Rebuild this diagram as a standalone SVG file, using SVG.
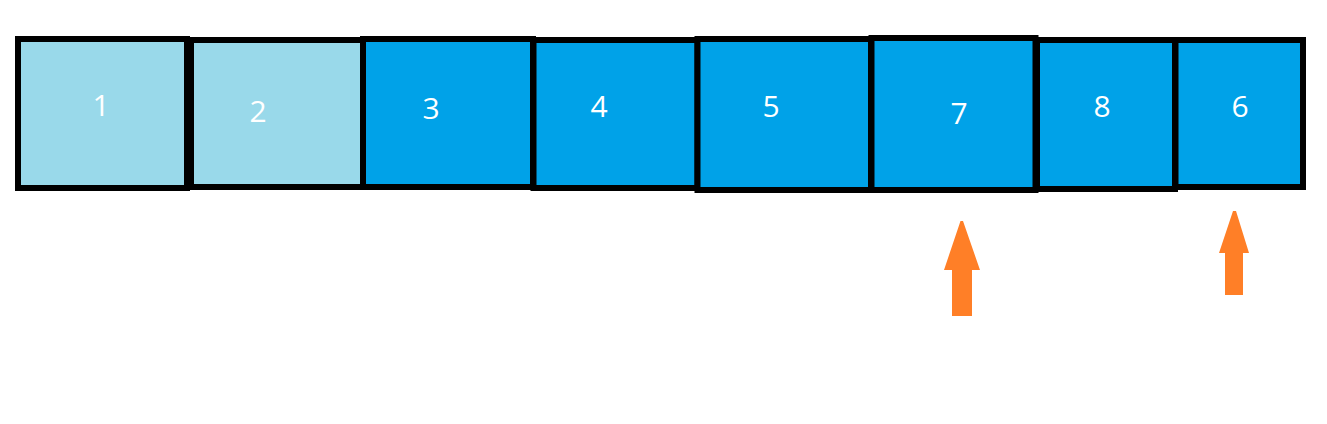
<svg xmlns="http://www.w3.org/2000/svg" width="1327" height="424" viewBox="0 0 1327 424">
<style>
.box{stroke:#000;stroke-width:6;stroke-linejoin:miter}
.light{fill:#99D9EA}
.dark{fill:#00A2E8}
.lbl{font-family:"Open Sans","Noto Sans",sans-serif;font-size:30px;fill:#fff;text-anchor:middle}
.arrow{fill:#FF7F27}
</style>
<rect width="1327" height="424" fill="#fff"/>
<g id="node-1"><rect class="box light" x="18" y="39" width="169" height="149"/><text class="lbl" x="101" y="116">1</text></g>
<g id="node-2"><rect class="box light" x="191" y="40" width="172" height="147"/><text class="lbl" x="258" y="122">2</text></g>
<g id="node-3"><rect class="box dark" x="363" y="39" width="170" height="148"/><text class="lbl" x="431" y="119">3</text></g>
<g id="node-4"><rect class="box dark" x="533.5" y="40" width="164" height="148"/><text class="lbl" x="599" y="117">4</text></g>
<g id="node-5"><rect class="box dark" x="697.5" y="39" width="173.5" height="151"/><text class="lbl" x="771" y="117">5</text></g>
<g id="node-7"><rect class="box dark" x="871.5" y="38" width="164" height="152"/><text class="lbl" x="959" y="124">7</text></g>
<g id="node-8"><rect class="box dark" x="1037" y="40" width="138" height="149"/><text class="lbl" x="1102" y="117">8</text></g>
<g id="node-6"><rect class="box dark" x="1175.5" y="40" width="127.5" height="147"/><text class="lbl" x="1240" y="117">6</text></g>
<g id="connectors">
<path class="arrow" d="M960.5,221 L963,221 L980,270 L972,270 L972,316 L952,316 L952,270 L944,270 Z"/>
<path class="arrow" d="M1233,211 L1236,211 L1249,253 L1243,253 L1243,295 L1225,295 L1225,253 L1219,253 Z"/>
</g>
</svg>
